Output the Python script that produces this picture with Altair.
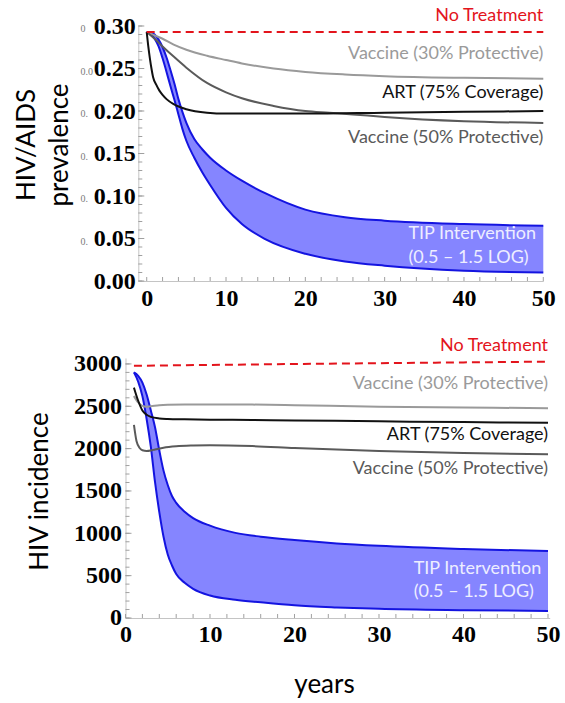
import altair as alt
import pandas as pd

# ---------------- HIV/AIDS prevalence (upper panel) ----------------
prev_none_years = [0, 50]
prev_none = [0.293, 0.293]

prev_vac30_years = [0, 1, 2, 3.4, 5, 7.6, 10, 12, 16, 20, 25, 30, 40, 50]
prev_vac30 = [0.293, 0.289, 0.285, 0.278, 0.272, 0.265, 0.260, 0.256, 0.250, 0.246, 0.243, 0.241, 0.239, 0.238]

prev_vac50_years = [0, 1, 2, 3.4, 5, 7.6, 10, 12, 16, 20, 23, 26, 30, 40, 50]
prev_vac50 = [0.293, 0.285, 0.276, 0.264, 0.251, 0.233, 0.222, 0.215, 0.206, 0.200, 0.198, 0.196, 0.193, 0.188, 0.186]

prev_art_years = [0, 0.2, 0.4, 0.6, 0.8, 1.2, 1.6, 2, 2.5, 3.4, 5, 7.6, 10, 15, 20, 30, 40, 50]
prev_art = [0.293, 0.276, 0.262, 0.250, 0.240, 0.231, 0.224, 0.219, 0.214, 0.208, 0.202, 0.198,
            0.197, 0.197, 0.197, 0.198, 0.199, 0.200]

prev_tip_years = [0, 0.5, 1, 1.5, 2, 2.5, 3, 3.5, 4, 4.5, 5, 6, 7, 8, 10, 12, 15, 20, 25, 30, 40, 50]
prev_tip_high = [0.293, 0.292, 0.290, 0.284, 0.275, 0.263, 0.248, 0.232, 0.214, 0.199, 0.186, 0.167,
                 0.155, 0.145, 0.130, 0.118, 0.103, 0.084, 0.075, 0.071, 0.067, 0.065]
prev_tip_low = [0.293, 0.291, 0.285, 0.276, 0.262, 0.246, 0.229, 0.213, 0.196, 0.179, 0.165, 0.145,
                0.128, 0.113, 0.086, 0.067, 0.049, 0.032, 0.023, 0.018, 0.012, 0.010]

prev_ticks = [0.00, 0.05, 0.10, 0.15, 0.20, 0.25, 0.30]
prev_ghosts = ["0", "0.0", "0.", "0.", "0.", "0."]
prev_ghost_at = [0.30, 0.25, 0.20, 0.15, 0.10, 0.05]

# ---------------- HIV incidence (lower panel) ----------------
inc_none_years = [1, 10, 20, 30, 40, 50]
inc_none = [2978, 2988, 2999, 3009, 3018, 3027]

inc_vac30_years = [1, 1.5, 2, 2.5, 3, 4, 5, 7, 10, 15, 20, 30, 40, 50]
inc_vac30 = [2620, 2545, 2505, 2495, 2500, 2512, 2518, 2522, 2522, 2520, 2512, 2495, 2485, 2478]

inc_art_years = [1, 1.5, 2, 2.5, 3, 4, 5, 7, 10, 15, 20, 30, 40, 50]
inc_art = [2720, 2565, 2450, 2400, 2375, 2356, 2350, 2346, 2342, 2338, 2333, 2322, 2313, 2306]

inc_vac50_years = [1, 1.3, 1.7, 2, 2.5, 3, 3.5, 4.5, 6, 8, 10, 15, 20, 30, 40, 50]
inc_vac50 = [2280, 2090, 2004, 1980, 1972, 1978, 1990, 2011, 2028, 2037, 2040, 2030, 2008, 1972, 1948, 1933]

inc_tip_years = [1, 1.5, 2, 2.5, 3, 3.5, 4, 4.5, 5, 5.5, 6, 7, 8, 10, 13, 16, 20, 25, 30, 40, 50]
inc_tip_high = [2900, 2860, 2780, 2640, 2450, 2250, 1980, 1740, 1570, 1440, 1360, 1255, 1180, 1090,
                1005, 960, 920, 880, 852, 815, 790]
inc_tip_low = [2900, 2790, 2620, 2350, 2020, 1600, 1250, 960, 750, 620, 520, 415, 345, 265,
               215, 185, 150, 125, 108, 92, 83]

inc_ticks = [0, 500, 1000, 1500, 2000, 2500, 3000]
year_ticks = [0, 10, 20, 30, 40, 50]

# ---------------- styling ----------------
PLOT_W = 424.2
TOP_H = 255
BOT_H = 260
SHIFT = 12.8          # upper panel's axis sits a little inside the shared plot box

RED = "#e3141c"
LIGHT = "#9a9a9a"
DARK = "#5a5a5a"
BLACK = "#111111"
BAND = "#8585ff"
EDGE = "#1414e0"
TIP_TXT = "#eeeeff"
TICK = "#a0a0a0"
LABEL_FONT = "Lato"

axis_style = dict(
    labelFont="Liberation Serif", labelFontWeight="bold", labelFontSize=24, labelColor="black",
    labelFlush=False, labelOverlap=False, domainColor="#c4c4c4", domainWidth=1,
    ticks=False, tickSize=0, grid=False,
    titleFont=LABEL_FONT, titleFontSize=26, titleFontWeight="normal", titleColor="black",
)


def panel(xs, xa, ys, ya, curves, band, labels, height, y_minor, y_major, x_minor, axis_x):
    """Layer ticks, the TIP band, the intervention curves and their labels."""
    def X(field):
        return alt.X(field, type="quantitative", scale=xs, axis=xa)

    def Y(field):
        return alt.Y(field, type="quantitative", scale=ys, axis=ya)

    layers = [
        alt.Chart(pd.DataFrame({"t": x_minor})).mark_rule(color=TICK)
        .encode(x=X("t"), y=alt.value(height), y2=alt.value(height - 4)),
        alt.Chart(pd.DataFrame({"t": y_minor})).mark_rule(color=TICK)
        .encode(y=Y("t"), x=alt.value(axis_x), x2=alt.value(axis_x + 4)),
        alt.Chart(pd.DataFrame({"t": y_major})).mark_rule(color=TICK)
        .encode(y=Y("t"), x=alt.value(axis_x), x2=alt.value(axis_x + 6)),
    ]
    yrs, hi, lo = band
    band_df = pd.DataFrame({"year": yrs, "hi": hi, "lo": lo})
    layers.append(
        alt.Chart(band_df).mark_area(color=BAND, opacity=1, interpolate="monotone")
        .encode(x=X("year"), y=Y("hi"), y2="lo:Q")
    )
    for col in ("hi", "lo"):
        layers.append(
            alt.Chart(band_df).mark_line(color=EDGE, strokeWidth=2, interpolate="monotone")
            .encode(x=X("year"), y=Y(col))
        )
    for yrs_c, vals, color, dash in curves:
        kw = dict(color=color, strokeWidth=2, interpolate="monotone")
        if dash:
            kw["strokeDash"] = dash
        layers.append(
            alt.Chart(pd.DataFrame({"year": yrs_c, "value": vals})).mark_line(**kw)
            .encode(x=X("year"), y=Y("value"))
        )
    for txt, yr, val, color, align in labels:
        layers.append(
            alt.Chart(pd.DataFrame({"year": [yr], "value": [val], "t": [txt]}))
            .mark_text(font=LABEL_FONT, fontSize=18, color=color, align=align, baseline="middle")
            .encode(x=X("year"), y=Y("value"), text="t:N")
        )
    return layers


# ---------- upper panel ----------
xs_top = alt.Scale(domain=[-1.06, 50], range=[SHIFT, SHIFT + 405], nice=False, zero=False)
xa_top = alt.Axis(values=year_ticks, format="d", labelPadding=5, title=None, **axis_style)
ys_top = alt.Scale(domain=[0, 0.30], nice=False)
ya_top = alt.Axis(values=prev_ticks, format=".2f", labelPadding=3, offset=-SHIFT,
                  title=["HIV/AIDS", "prevalence"], titleAngle=270, titleAlign="center",
                  titleBaseline="alphabetic", titleX=-103.3, titleY=118.5, titleLineHeight=33,
                  **axis_style)

top_layers = panel(
    xs_top, xa_top, ys_top, ya_top,
    curves=[
        (prev_vac30_years, prev_vac30, LIGHT, None),
        (prev_vac50_years, prev_vac50, DARK, None),
        (prev_art_years, prev_art, BLACK, None),
        (prev_none_years, prev_none, RED, [8, 5]),
    ],
    band=(prev_tip_years, prev_tip_high, prev_tip_low),
    labels=[
        ("No Treatment", 50, 0.312, RED, "right"),
        ("Vaccine (30% Protective)", 50, 0.267, LIGHT, "right"),
        ("ART (75% Coverage)", 50, 0.221, BLACK, "right"),
        ("Vaccine (50% Protective)", 50, 0.168, DARK, "right"),
        ("TIP Intervention", 33, 0.055, TIP_TXT, "left"),
        ("(0.5 \u2013 1.5 LOG)", 33, 0.027, TIP_TXT, "left"),
    ],
    height=TOP_H,
    y_minor=[i / 100 for i in range(31)],
    y_major=prev_ticks,
    x_minor=list(range(0, 51, 2)),
    axis_x=SHIFT,
)
top_layers.append(
    alt.Chart(pd.DataFrame({"v": prev_ghost_at, "t": prev_ghosts}))
    .mark_text(font="Liberation Serif", fontSize=10, color="#7a7a7a", align="left", baseline="middle", dy=3)
    .encode(y=alt.Y("v", type="quantitative", scale=ys_top, axis=ya_top), x=alt.value(-45), text="t:N")
)
top = alt.layer(*top_layers).properties(width=PLOT_W, height=TOP_H)

# ---------- lower panel ----------
xs_bot = alt.Scale(domain=[0, 50.2], nice=False, zero=False)
xa_bot = alt.Axis(values=year_ticks, format="d", labelPadding=5, title="years",
                  titleX=198.5, titleY=75, titleBaseline="alphabetic", titleAlign="center",
                  titleAngle=0, **axis_style)
ys_bot = alt.Scale(domain=[0, 3070], nice=False)
ya_bot = alt.Axis(values=inc_ticks, format="d", labelPadding=4, title="HIV incidence",
                  titleAngle=270, titleAlign="center", titleBaseline="alphabetic",
                  titleX=-77.5, titleY=133, **axis_style)

bot_layers = panel(
    xs_bot, xa_bot, ys_bot, ya_bot,
    curves=[
        (inc_vac30_years, inc_vac30, LIGHT, None),
        (inc_vac50_years, inc_vac50, DARK, None),
        (inc_art_years, inc_art, BLACK, None),
        (inc_none_years, inc_none, RED, [8, 5]),
    ],
    band=(inc_tip_years, inc_tip_high, inc_tip_low),
    labels=[
        ("No Treatment", 50, 3212, RED, "right"),
        ("Vaccine (30% Protective)", 50, 2764, LIGHT, "right"),
        ("ART (75% Coverage)", 50, 2161, BLACK, "right"),
        ("Vaccine (50% Protective)", 50, 1760, DARK, "right"),
        ("TIP Intervention", 34.1, 579, TIP_TXT, "left"),
        ("(0.5 \u2013 1.5 LOG)", 34.1, 307, TIP_TXT, "left"),
    ],
    height=BOT_H,
    y_minor=list(range(0, 3001, 100)),
    y_major=inc_ticks,
    x_minor=list(range(0, 51, 2)),
    axis_x=0,
)
bottom = alt.layer(*bot_layers).properties(width=PLOT_W, height=BOT_H)

chart = (
    alt.vconcat(top, bottom, spacing=26)
    .properties(padding={"left": 13.5, "top": 6, "right": 0, "bottom": 0}, background="white")
    .configure_view(stroke=None)
)

chart.save("out.html", embed_options={"renderer": "svg", "actions": False})
